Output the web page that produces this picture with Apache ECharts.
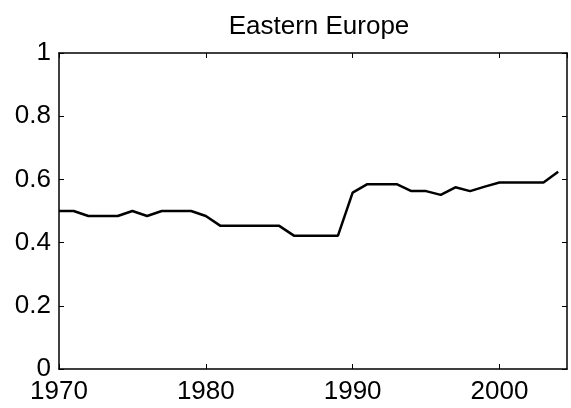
<!DOCTYPE html>
<html>
<head>
<meta charset="utf-8">
<script src="https://cdn.jsdelivr.net/npm/echarts@6/dist/echarts.min.js"></script>
<style>
  html, body { margin: 0; padding: 0; background: #fff; }
  #main { width: 571px; height: 408px; }
</style>
</head>
<body>
<div id="main"></div>
<script>
  // Eastern Europe series
  var years = [1970, 1971, 1972, 1973, 1974, 1975, 1976, 1977, 1978, 1979,
               1980, 1981, 1982, 1983, 1984, 1985, 1986, 1987, 1988, 1989,
               1990, 1991, 1992, 1993, 1994, 1995, 1996, 1997, 1998, 1999,
               2000, 2001, 2002, 2003, 2004];
  var values = [0.50, 0.50, 0.484, 0.484, 0.484, 0.50, 0.484, 0.50, 0.50, 0.50,
                0.484, 0.453, 0.453, 0.453, 0.453, 0.453, 0.422, 0.422, 0.422, 0.422,
                0.558, 0.585, 0.585, 0.585, 0.563, 0.563, 0.551, 0.575, 0.563, 0.577,
                0.59, 0.59, 0.59, 0.59, 0.624];
  var xTicks = [1970, 1980, 1990, 2000];
  var yTicks = [0, 0.2, 0.4, 0.6, 0.8, 1];

  var font = 'Liberation Sans, Arial, sans-serif';
  var data = years.map(function (y, i) { return [y, values[i]]; });

  var myChart = echarts.init(document.getElementById('main'), null, { renderer: 'canvas' });
  var axisLine = { show: true, onZero: false, lineStyle: { color: '#000', width: 1.5 } };
  var tick = { show: true, inside: true, length: 5, lineStyle: { color: '#000', width: 1 } };

  var option = {
    animation: false,
    backgroundColor: '#fff',
    title: {
      text: 'Eastern Europe',
      left: 314,
      textAlign: 'center',
      top: 9,
      textStyle: { fontFamily: font, fontWeight: 'normal', fontSize: 26, color: '#000' }
    },
    grid: { left: 59, top: 53, right: 4, bottom: 39 },
    xAxis: [{
      type: 'value',
      min: 1970,
      max: 2004.6,
      interval: 10,
      axisLine: axisLine,
      axisTick: tick,
      splitLine: { show: false },
      axisLabel: {
        color: '#000', fontFamily: font, fontSize: 26, margin: 10,
        showMaxLabel: false,
        formatter: function (v) { return xTicks.indexOf(v) >= 0 ? String(v) : ''; }
      }
    }, {
      type: 'value',
      position: 'top',
      min: 1970,
      max: 2004.6,
      interval: 10,
      axisLine: axisLine,
      axisTick: tick,
      splitLine: { show: false },
      axisLabel: { show: false }
    }],
    yAxis: [{
      type: 'value',
      min: 0,
      max: 1,
      interval: 0.2,
      axisLine: axisLine,
      axisTick: tick,
      splitLine: { show: false },
      axisLabel: {
        color: '#000', fontFamily: font, fontSize: 26, margin: 8,
        formatter: function (v) {
          var t = yTicks.filter(function (k) { return Math.abs(k - v) < 1e-9; });
          return t.length ? String(t[0]) : '';
        }
      }
    }, {
      type: 'value',
      position: 'right',
      min: 0,
      max: 1,
      interval: 0.2,
      axisLine: axisLine,
      axisTick: tick,
      splitLine: { show: false },
      axisLabel: { show: false }
    }],
    series: [{
      type: 'line',
      data: data,
      showSymbol: false,
      lineStyle: { color: '#000', width: 2.5 },
      xAxisIndex: 0,
      yAxisIndex: 0
    }]
  };
  myChart.setOption(option);
</script>
</body>
</html>
